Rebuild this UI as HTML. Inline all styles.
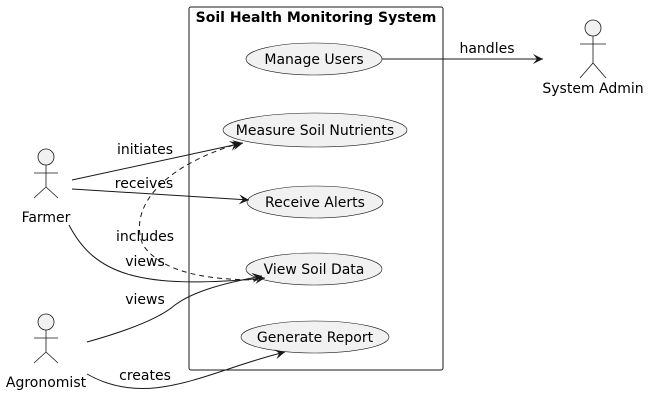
<!DOCTYPE html>
<html><head><meta charset="utf-8"><style>
html,body{margin:0;padding:0;background:#fff;}
svg{display:block;font-family:"DejaVu Sans","Liberation Sans",sans-serif;}
</style></head><body>
<svg width="650" height="403" viewBox="0 0 650 403" xmlns="http://www.w3.org/2000/svg">
<defs>
<marker id="a" markerWidth="12" markerHeight="10" refX="10" refY="5" orient="auto" markerUnits="userSpaceOnUse">
<path d="M0,0 L10,5 L0,10 L4,5 Z" fill="#181818"/>
</marker>
</defs>
<rect x="189" y="7" width="254" height="363" rx="2" fill="none" stroke="#181818" stroke-width="1"/>
<text x="316" y="22" text-anchor="middle" font-size="14" font-weight="bold" fill="#000">Soil Health Monitoring System</text>
<g fill="#f1f1f1" stroke="#181818" stroke-width="0.6">
<ellipse cx="314" cy="59" rx="68" ry="16"/>
<ellipse cx="315" cy="130" rx="92" ry="17"/>
<ellipse cx="315" cy="202" rx="68" ry="16"/>
<ellipse cx="314" cy="269" rx="68" ry="16"/>
<ellipse cx="315" cy="337" rx="74" ry="16"/>
</g>
<g font-size="14" fill="#000" text-anchor="middle">
<text x="314" y="64">Manage Users</text>
<text x="315" y="135">Measure Soil Nutrients</text>
<text x="315" y="207">Receive Alerts</text>
<text x="314" y="274">View Soil Data</text>
<text x="315" y="342">Generate Report</text>
</g>
<g fill="#f1f1f1" stroke="#181818" stroke-width="0.8">
<circle cx="46" cy="157" r="8"/>
<path d="M46,165 V187 M34,173 H58 M34,198 L46,187 L58,198" fill="none"/>
<circle cx="46" cy="322" r="8"/>
<path d="M46,330 V352 M34,338 H58 M34,363 L46,352 L58,363" fill="none"/>
<circle cx="593" cy="28" r="8"/>
<path d="M593,36 V58 M580,44 H606 M580,78 L593,63 L606,78 M593,58 V63" fill="none"/>
</g>
<g font-size="14" fill="#000" text-anchor="middle">
<text x="46" y="222">Farmer</text>
<text x="46" y="387">Agronomist</text>
<text x="593" y="93">System Admin</text>
</g>
<g fill="none" stroke="#181818" stroke-width="1" marker-end="url(#a)">
<path d="M382,59 L543,59"/>
<path d="M72,180 L243,143"/>
<path d="M72,189 L249,200"/>
<path d="M69,225 C95,275 140,290 265,278"/>
<path d="M87,342 C130,330 160,318 175,305 C195,290 230,282 262,276"/>
<path d="M87,374 C150,410 210,370 285,352"/>
<path d="M258,280 C200,280 160,270 143,245 C130,215 150,170 240,143" stroke-dasharray="5,4"/>
</g>
<g font-size="14" fill="#000" text-anchor="middle">
<text x="487" y="53">handles</text>
<text x="145" y="154">initiates</text>
<text x="144" y="188">receives</text>
<text x="145" y="241">includes</text>
<text x="145" y="266">views</text>
<text x="145" y="304">views</text>
<text x="145" y="380">creates</text>
</g>
</svg>
</body></html>
